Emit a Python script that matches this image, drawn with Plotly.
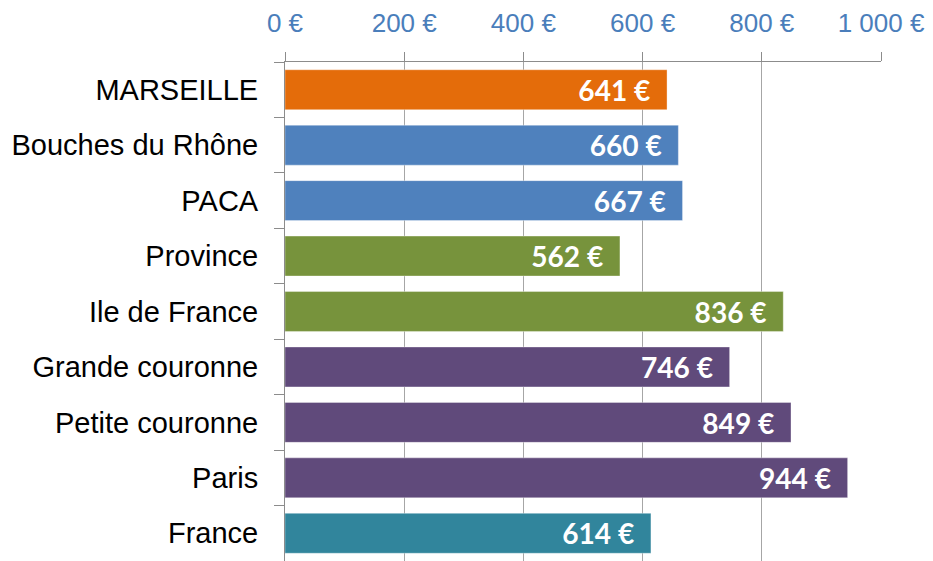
import plotly.graph_objects as go

categories = ["MARSEILLE", "Bouches du Rhône", "PACA", "Province", "Ile de France",
              "Grande couronne", "Petite couronne", "Paris", "France"]
values = [641, 660, 667, 562, 836, 746, 849, 944, 614]
colors = ["#E46C0A", "#4F81BD", "#4F81BD", "#77933C", "#77933C",
          "#604A7B", "#604A7B", "#604A7B", "#31859C"]
tick_vals = [0, 200, 400, 600, 800, 1000]
tick_text = ["0 €", "200 €", "400 €", "600 €", "800 €", "1 000 €"]

labels = [f"{v} €\u00a0\u00a0" for v in values]

fig = go.Figure(go.Bar(
    x=values, y=categories, orientation="h",
    marker=dict(color=colors, line=dict(color="rgba(255,255,255,0.35)", width=1)),
    text=labels, textposition="inside", insidetextanchor="end",
    textfont=dict(family="Lato", size=29, color="white", weight="bold"),
    textangle=0, cliponaxis=False,
))

fig.update_layout(
    width=925, height=553,
    margin=dict(l=277, r=52, t=54, b=0, autoexpand=False),
    paper_bgcolor="white", plot_bgcolor="white",
    bargap=0.28, showlegend=False,
)
fig.update_xaxes(
    side="top", range=[0, 1000], tickvals=tick_vals, ticktext=tick_text,
    tickfont=dict(family="Liberation Sans", size=26, color="#4A7EBB"),
    showgrid=True, gridcolor="#A6A6A6", gridwidth=1,
    showline=True, linecolor="#8C8C8C", linewidth=1,
    ticks="outside", ticklen=9, tickcolor="#8C8C8C", ticklabelstandoff=10,
    zeroline=False, automargin=False,
)
fig.update_yaxes(
    autorange="reversed", tickfont=dict(family="Liberation Sans", size=29, color="black"),
    showline=True, linecolor="#8C8C8C", linewidth=1,
    ticks="outside", ticklen=10, tickcolor="#8C8C8C", tickson="boundaries",
    ticklabelstandoff=20, showgrid=False, automargin=False,
)

fig.write_html("out.html")
